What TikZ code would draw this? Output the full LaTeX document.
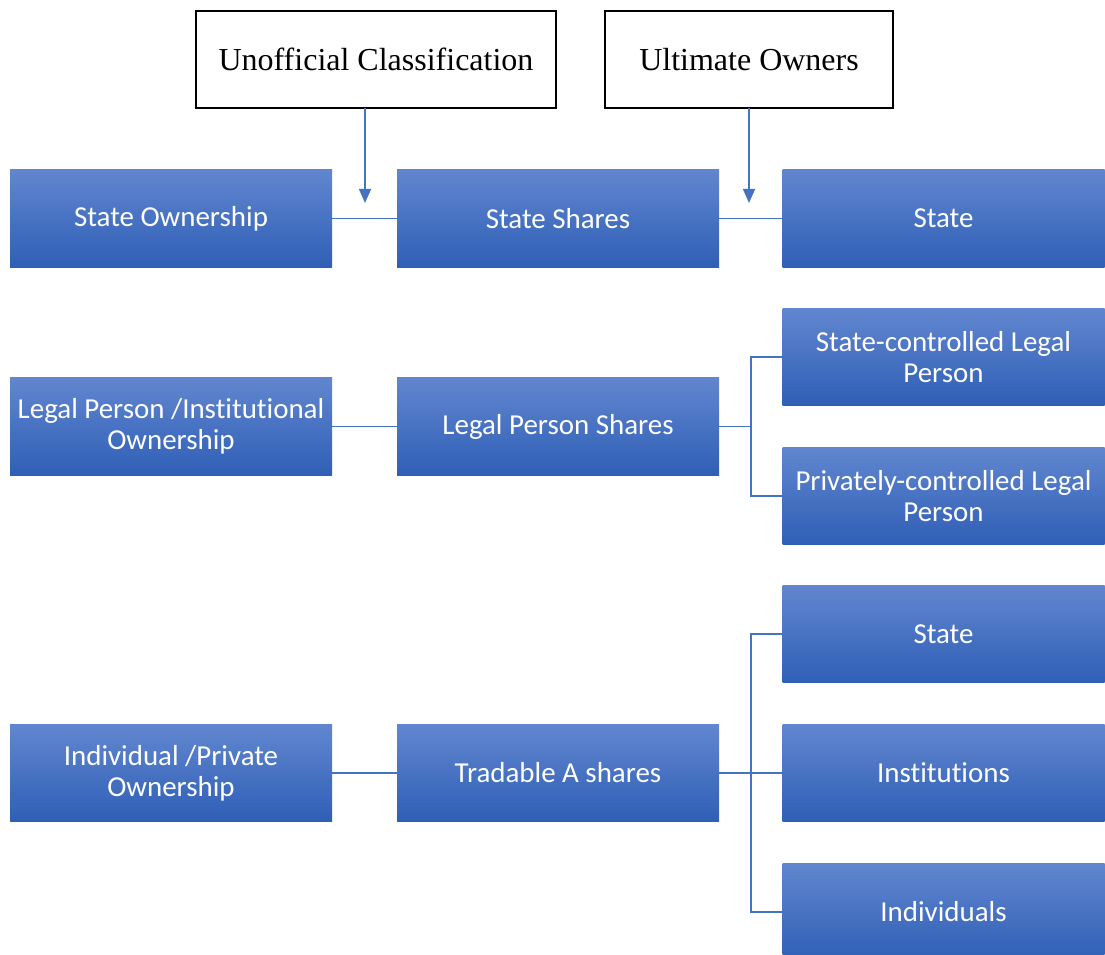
\documentclass[tikz,border=0pt]{standalone}
\usepackage{fontspec}
\setmainfont{Liberation Serif}
\newfontfamily\boxfont[Ligatures=NoCommon]{Carlito}
\usetikzlibrary{arrows.meta}
\definecolor{linkblue}{HTML}{4472C4}
\definecolor{shadetop}{HTML}{6186CF}
\definecolor{shademid}{HTML}{3D6FCB}
\definecolor{shadebot}{HTML}{2F5FB6}
\tikzset{
  bluebox/.style={rectangle, inner sep=2pt, outer sep=0pt,
    minimum width=241.5pt, minimum height=73pt, align=center,
    top color=shadetop, middle color=shademid, bottom color=shadebot,
    text=white, font=\boxfont\fontsize{21.7}{23.5}\selectfont},
  headbox/.style={rectangle, draw=black, line width=1.6pt, outer sep=0pt,
    minimum height=72.5pt, fill=white, font=\fontsize{24}{28}\selectfont},
  conn/.style={draw=linkblue, line width=1.1pt},
  arr/.style={draw=linkblue, line width=1.1pt, -{Triangle[length=10.5pt,width=9pt]}}
}
\begin{document}
\begin{tikzpicture}[x=0.75pt, y=-0.75pt]
\useasboundingbox (0,0) rectangle (1105,955);
% heading boxes
\node[headbox, minimum width=270pt] (uc) at (376,59.5) {Unofficial Classification};
\node[headbox, minimum width=216pt] (uo) at (749,59.5) {Ultimate Owners};
% row 1
\node[bluebox] (so) at (171,218.5) {State Ownership};
\node[bluebox] (ss) at (558,218.5) {State Shares};
\node[bluebox] (st) at (943.5,218.5) {State};
% row 2
\node[bluebox] (lp) at (171,426.5) {Legal Person /Institutional\\Ownership};
\node[bluebox] (lps) at (558,426.5) {Legal Person Shares};
\node[bluebox] (scl) at (943.5,357) {State-controlled Legal\\Person};
\node[bluebox] (pcl) at (943.5,496) {Privately-controlled Legal\\Person};
% row 3
\node[bluebox] (ip) at (171,773) {Individual /Private\\Ownership};
\node[bluebox] (ta) at (558,773) {Tradable A shares};
\node[bluebox] (s3) at (943.5,634) {State};
\node[bluebox] (inst) at (943.5,773) {Institutions};
\node[bluebox] (indiv) at (943.5,912) {Individuals};
% connectors
\draw[conn] (so.east) -- (ss.west);
\draw[conn] (ss.east) -- (st.west);
\draw[conn] (lp.east) -- (lps.west);
\draw[conn] (ip.east) -- (ta.west);
\coordinate (b2) at (751,426.5);
\draw[conn] (lps.east) -- (b2);
\draw[conn] (scl.west) -| (b2) |- (pcl.west);
\coordinate (b3) at (751,773);
\draw[conn] (ta.east) -- (inst.west);
\draw[conn] (s3.west) -| (b3) |- (indiv.west);
% arrows from the headings
\coordinate (a1) at (365,203);
\coordinate (a2) at (749,203);
\draw[arr] (a1 |- uc.south) -- (a1);
\draw[arr] (uo.south) -- (a2);
\end{tikzpicture}
\end{document}
